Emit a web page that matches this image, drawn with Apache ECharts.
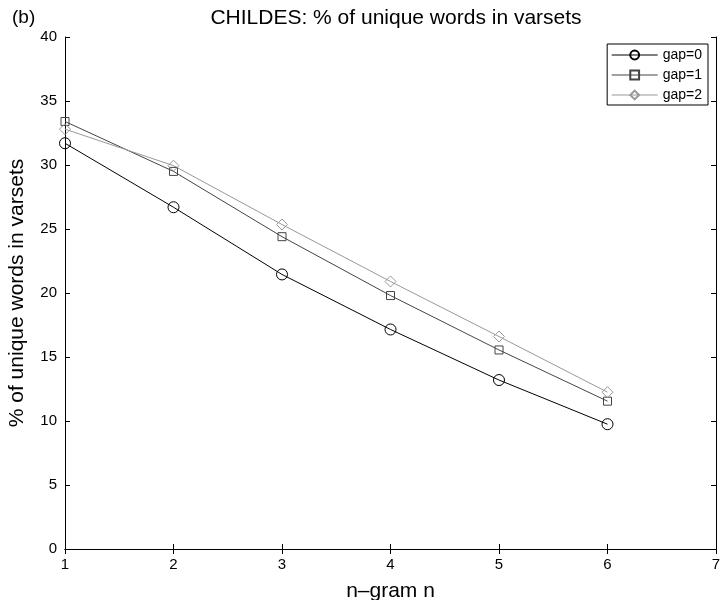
<!DOCTYPE html>
<html>
<head>
<meta charset="utf-8">
<script src="https://cdn.jsdelivr.net/npm/echarts@6/dist/echarts.min.js"></script>
<style>html,body{margin:0;padding:0;background:#fff;}#c{width:721px;height:600px;}</style>
</head>
<body>
<div id="c"></div>
<script>
var nValues = [1, 2, 3, 4, 5, 6];
var gap0 = [31.7, 26.7, 21.45, 17.15, 13.2, 9.75];
var gap1 = [33.4, 29.5, 24.4, 19.8, 15.55, 11.55];
var gap2 = [32.8, 29.95, 25.35, 20.9, 16.6, 12.25];
var seriesNames = ['gap=0', 'gap=1', 'gap=2'];
var xTicks = [1, 2, 3, 4, 5, 6, 7];
var yTicks = [0, 5, 10, 15, 20, 25, 30, 35, 40];

var FONT = '"Liberation Sans", Arial, Helvetica, sans-serif';
function pairs(ys) { return nValues.map(function (x, i) { return [x, ys[i]]; }); }

var chart = echarts.init(document.getElementById('c'), null, {renderer: 'canvas'});
var boxAxis = {
  axisLine: {show: true, lineStyle: {color: '#000', width: 1}},
  axisTick: {show: true, inside: true, length: 5, lineStyle: {color: '#000'}},
  splitLine: {show: false}
};
function mk(name, data, color, symbol, size) {
  return {
    name: name, type: 'line', data: pairs(data), xAxisIndex: 0, yAxisIndex: 0,
    symbol: symbol, symbolSize: size, showAllSymbol: true,
    lineStyle: {color: color, width: 1},
    itemStyle: {color: 'rgba(255,255,255,0)', borderColor: color, borderWidth: 1},
    emphasis: {disabled: true}, animation: false
  };
}
chart.setOption({
  animation: false,
  backgroundColor: '#fff',
  textStyle: {fontFamily: FONT},
  title: [
    {text: 'CHILDES: % of unique words in varsets', left: 391, textAlign: 'center', top: 3,
     textStyle: {fontFamily: FONT, fontSize: 21, fontWeight: 'normal', color: '#000'}},
    {text: '(b)', left: 7, top: 3,
     textStyle: {fontFamily: FONT, fontSize: 19, fontWeight: 'normal', color: '#000'}}
  ],
  grid: {left: 65, right: 5, top: 37, bottom: 51, containLabel: false, outerBoundsMode: 'none'},
  legend: {
    data: seriesNames, orient: 'vertical', right: 13, top: 44,
    backgroundColor: '#fff', borderColor: '#000', borderWidth: 1,
    padding: [4, 6, 3, 4], itemGap: 6, itemWidth: 46, itemHeight: 11,
    lineStyle: {width: 1},
    textStyle: {fontFamily: FONT, fontSize: 14, color: '#000'}
  },
  xAxis: [
    Object.assign({type: 'value', min: 1, max: 7, interval: 1, position: 'bottom',
      name: 'n\u2013gram n', nameLocation: 'middle', nameGap: 32,
      nameTextStyle: {fontFamily: FONT, fontSize: 21, color: '#000'},
      axisLabel: {fontFamily: FONT, fontSize: 15, color: '#000', margin: 8}}, boxAxis),
    Object.assign({type: 'value', min: 1, max: 7, interval: 1, position: 'top',
      axisLabel: {show: false}}, boxAxis)
  ],
  yAxis: [
    Object.assign({type: 'value', min: 0, max: 40, interval: 5, position: 'left',
      name: '% of unique words in varsets', nameLocation: 'middle', nameGap: 37,
      nameTextStyle: {fontFamily: FONT, fontSize: 21, color: '#000'},
      axisLabel: {fontFamily: FONT, fontSize: 15, color: '#000', margin: 8}}, boxAxis),
    Object.assign({type: 'value', min: 0, max: 40, interval: 5, position: 'right',
      axisLabel: {show: false}}, boxAxis)
  ],
  series: [
    mk(seriesNames[0], gap0, '#000000', 'circle', 11),
    mk(seriesNames[1], gap1, '#444444', 'rect', 8),
    mk(seriesNames[2], gap2, '#999999', 'diamond', 11)
  ]
});
</script>
</body>
</html>
